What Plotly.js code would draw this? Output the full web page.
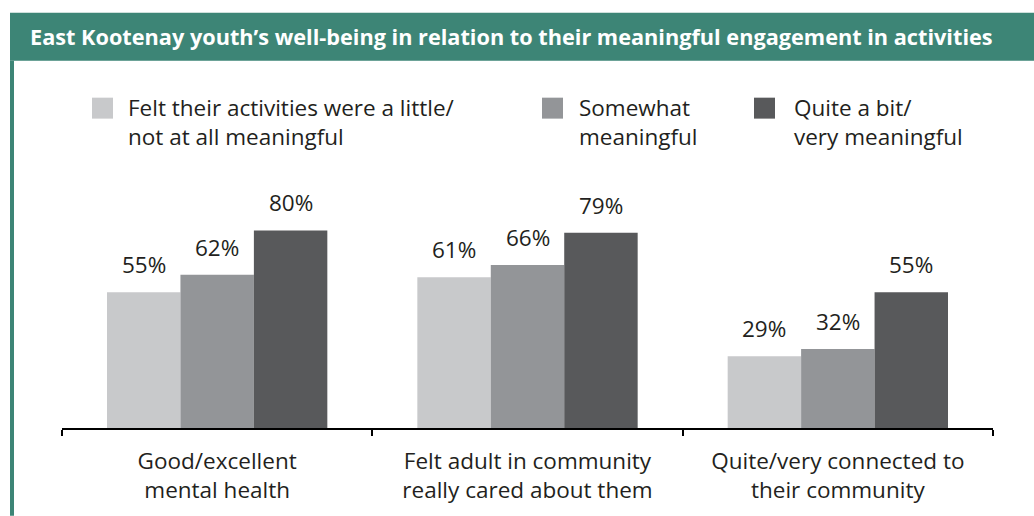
<!DOCTYPE html>
<html>
<head>
<meta charset="utf-8">
<script src="https://cdn.plot.ly/plotly-3.0.1.min.js"></script>
<style>html,body{margin:0;padding:0;background:#fff;}#chart{width:1034px;height:516px;}</style>
</head>
<body>
<div id="chart"></div>
<script>
var chartTitle = "East Kootenay youth’s well-being in relation to their meaningful engagement in activities";
var categories = ["Good/excellent<br>mental health", "Felt adult in community<br>really cared about them", "Quite/very connected to<br>their community"];
var seriesNames = ["Felt their activities were a little/<br>not at all meaningful", "Somewhat<br>meaningful", "Quite a bit/<br>very meaningful"];
var littleValues = [55, 61, 29];
var somewhatValues = [62, 66, 32];
var veryValues = [80, 79, 55];
var seriesColors = ["#c8c9cb", "#939598", "#58595b"];

var W = 1034, H = 516;
var L = 62, R = 993, B = 428, T = 180.5;
var FONT = "Open Sans, Noto Sans, sans-serif";
var TXT = "#231f20";
var FS = 22.5;
function px(x){ return (x - L) / (R - L); }
function py(y){ return (B - y) / (B - T); }

var allValues = [littleValues, somewhatValues, veryValues];
var bargap = 0.29;
var barW = (1 - bargap) / 3;

var traces = allValues.map(function(vals, j){
  return {
    type: "bar",
    x: categories,
    y: vals,
    name: seriesNames[j],
    marker: {color: seriesColors[j], line: {width: 0}},
    hoverinfo: "none",
    showlegend: false
  };
});

var annotations = [];
allValues.forEach(function(vals, j){
  vals.forEach(function(v, i){
    annotations.push({
      x: i + (j - 1) * barW, y: v, xref: "x", yref: "y",
      text: v + "%", showarrow: false, yanchor: "bottom", xanchor: "center",
      yshift: 10, font: {family: FONT, size: FS, color: TXT}
    });
  });
});

// title
annotations.push({
  x: px(28), y: py(36), xref: "paper", yref: "paper", xanchor: "left", yanchor: "middle",
  text: "<b>" + chartTitle + "</b>", showarrow: false,
  font: {family: FONT, size: 21.7, color: "#ffffff"}
});

// custom legend
var swatchX = [92, 542, 754];
var textX = [126, 577, 792];
var shapes = [
  {type: "rect", xref: "paper", yref: "paper", x0: px(10), x1: px(1034), y0: py(12), y1: py(60), fillcolor: "#3d8576", line: {width: 0}, layer: "below"},
  {type: "rect", xref: "paper", yref: "paper", x0: px(10), x1: px(14), y0: py(60), y1: py(516), fillcolor: "#3d8576", line: {width: 0}, layer: "below"}
];
seriesNames.forEach(function(n, j){
  shapes.push({type: "rect", xref: "paper", yref: "paper", x0: px(swatchX[j]), x1: px(swatchX[j] + 21), y0: py(97), y1: py(118), fillcolor: seriesColors[j], line: {width: 0}});
  annotations.push({
    x: px(textX[j]), y: py(121), xref: "paper", yref: "paper", xanchor: "left", yanchor: "middle", align: "left",
    text: n, showarrow: false, font: {family: FONT, size: FS, color: TXT}
  });
});

var layout = {
  width: W, height: H,
  margin: {l: L, r: W - R, t: T, b: H - B, pad: 0},
  paper_bgcolor: "#ffffff", plot_bgcolor: "#ffffff",
  barmode: "group", bargap: bargap, bargroupgap: 0,
  showlegend: false,
  xaxis: {
    type: "category", tickson: "boundaries", ticks: "outside", ticklen: 6, tickwidth: 2, tickcolor: "#000",
    showline: true, linecolor: "#000", linewidth: 2, showgrid: false, zeroline: false,
    ticklabelstandoff: 12,
    tickfont: {family: FONT, size: FS, color: TXT}, fixedrange: true
  },
  yaxis: {range: [0, 100], visible: false, showgrid: false, zeroline: false, fixedrange: true},
  annotations: annotations,
  shapes: shapes
};

Plotly.newPlot("chart", traces, layout, {displayModeBar: false, staticPlot: true});
</script>
</body>
</html>
